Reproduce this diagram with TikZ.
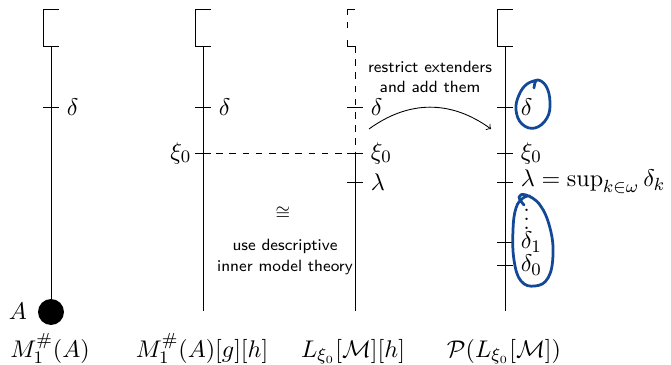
\documentclass[tikz,border=0pt]{standalone}
\usepackage{amsmath,amssymb}
\definecolor{pen}{RGB}{18,72,150}
\begin{document}
\begin{tikzpicture}[x=0.4545pt,y=-0.4545pt,
  lab/.style={font=\fontsize{11}{13.6}\selectfont},
  note/.style={font=\sffamily\fontsize{7.4}{9.2}\selectfont, align=center},
  ink/.style={pen, line width=1.25pt, line cap=round, line join=round},
  dbrack/.style={dash pattern=on 6.4pt off 3.2pt on 2.7pt off 5.5pt on 6.4pt}]
\useasboundingbox (0,0) rectangle (671,364);

% ---------- column 1 : M_1^#(A)
\coordinate (c1top) at (51,46);
\node[circle, fill, inner sep=0pt, minimum size=11.8pt] (ball) at (51,312) {};
\draw (59,9) -| (43,46) -- (59,46);
\draw (c1top) -- (ball);
\draw (43,107) -- (59,107);
\node[lab, anchor=west] (d1) at (59,107) {$\delta$};
\node[lab, anchor=base] (alab) at (18,319) {$A$};
\node[lab, anchor=base] (m1) at (50,357) {$M_1^{\#}(A)$};

% ---------- column 2 : M_1^#(A)[g][h]
\coordinate (c2top) at (203,46);
\coordinate (c2bot) at (203,311);
\coordinate (c2x) at (203,153);
\draw (211,9) -| (195,46) -- (211,46);
\draw (c2top) -- (c2bot);
\draw (195,107) -- (211,107);
\draw (195,153) -- (211,153);
\node[lab, anchor=west] (d2) at (211,107) {$\delta$};
\node[lab, anchor=east, inner sep=1.5pt] (x2) at (195,153) {$\xi_0$};
\node[lab, anchor=base] (m2) at (202,357) {$M_1^{\#}(A)[g][h]$};

% ---------- column 3 : L_xi0[M][h]
\coordinate (c3top) at (355,46);
\coordinate (c3x) at (355,153);
\coordinate (c3bot) at (355,311);
\draw[dbrack] (355,9) -- (347,9) -- (347,46) -- (355,46);
\draw[dashed] (c3top) -- (c3x);
\draw (c3x) -- (c3bot);
\draw (347,107) -- (363,107);
\draw (347,153) -- (363,153);
\draw (347,182) -- (363,182);
\node[lab, anchor=west] (d3) at (363,107) {$\delta$};
\node[lab, anchor=west] (x3) at (363,153) {$\xi_0$};
\node[lab, anchor=west] (l3) at (363,182) {$\lambda$};
\node[lab, anchor=base] (m3) at (353,357) {$L_{\xi_0}[\mathcal{M}][h]$};

\draw[dashed] (c2x) -- (c3x);

% ---------- column 4 : P(L_xi0[M])
\coordinate (c4top) at (505,46);
\coordinate (c4bot) at (505,311);
\draw (513,9) -| (497,46) -- (513,46);
\draw (c4top) -- (c4bot);
\foreach \yy in {107,153,182,242,265} \draw (497,\yy) -- (513,\yy);
\node[lab, anchor=west] (d4) at (513,107) {$\delta$};
\node[lab, anchor=west] (x4) at (513,153) {$\xi_0$};
\node[lab, anchor=west] (l4) at (513,182) {$\lambda=\sup_{k\in\omega}\delta_k$};
\node[lab, anchor=west, inner sep=0pt] (vd4) at (523,213) {$\vdots$};
\node[lab, anchor=west] (e1) at (513,242) {$\delta_1$};
\node[lab, anchor=west] (e0) at (513,265) {$\delta_0$};
\node[lab, anchor=base] (m4) at (504,357) {$\mathcal{P}(L_{\xi_0}[\mathcal{M}])$};

% ---------- annotations
\node[note] (restr) at (430,77) {restrict extenders\\and add them};
\coordinate (arrS) at (369,129);
\coordinate (arrE) at (491,129);
\draw[->] (arrS) .. controls (409,100) and (451,100) .. (arrE);
\node[font=\fontsize{8}{9.5}\selectfont] (cong) at (283,213) {$\cong$};
\node[note] (dimt) at (285,257) {use descriptive\\inner model theory};

% ---------- hand-drawn blue marks
\draw[ink] plot[smooth, tension=0.7] coordinates {(534,88) (537,80) (546,86) (550,102) (547,118) (535,128) (522,124) (516,110) (519,95) (527,84) (538,80)};
\draw[ink] plot[smooth, tension=0.7] coordinates {(524,205) (519,197) (526,195) (540,205) (550,228) (553,255) (548,278) (535,286) (521,281) (514,260) (513,230) (516,208) (523,198) (530,196)};
\end{tikzpicture}
\end{document}
